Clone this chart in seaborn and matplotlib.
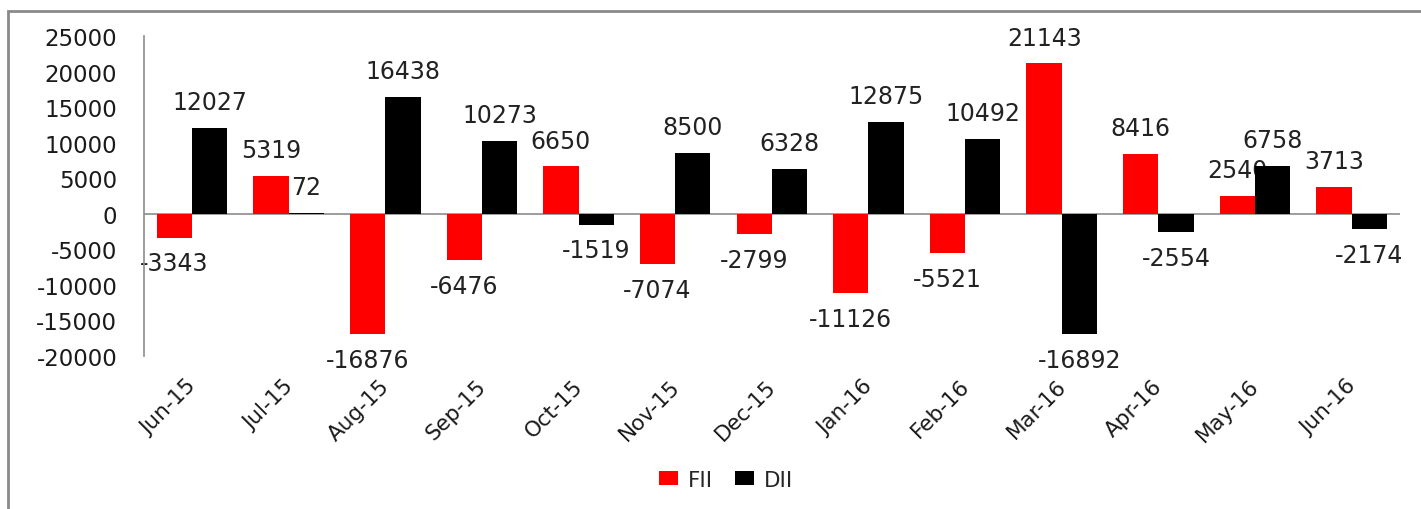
import matplotlib
matplotlib.use("Agg")
import matplotlib.pyplot as plt
import matplotlib.transforms as mtransforms
import seaborn as sns
import pandas as pd
from matplotlib.patches import Rectangle, Patch

months = ["Jun-15", "Jul-15", "Aug-15", "Sep-15", "Oct-15", "Nov-15", "Dec-15",
          "Jan-16", "Feb-16", "Mar-16", "Apr-16", "May-16", "Jun-16"]
fii = [-3343, 5319, -16876, -6476, 6650, -7074, -2799, -11126, -5521, 21143, 8416, 2540, 3713]
dii = [12027, 72, 16438, 10273, -1519, 8500, 6328, 12875, 10492, -16892, -2554, 6758, -2174]
series = ["FII", "DII"]
colors = {"FII": "#ff0000", "DII": "#000000"}
yticks = [-20000, -15000, -10000, -5000, 0, 5000, 10000, 15000, 20000, 25000]

df = pd.DataFrame({
    "month": months * 2,
    "value": fii + dii,
    "series": ["FII"] * len(months) + ["DII"] * len(months),
})

sns.set_style("white")
plt.rcParams["font.family"] = ["DejaVu Sans"]

W, H = 1421, 510
fig = plt.figure(figsize=(W / 100, H / 100), dpi=100)
ax = fig.add_axes([143.7 / W, 1 - 357 / H, (1400 - 143.7) / W, (357 - 37) / H])

sns.barplot(data=df, x="month", y="value", hue="series", order=months,
            hue_order=series, palette=colors, width=0.73, saturation=1,
            ax=ax, legend=False, linewidth=0)

ax.set_xlim(-0.5, len(months) - 0.5)
ax.set_ylim(-20000, 25000)
ax.set_yticks(yticks)
ax.set_yticklabels([str(v) for v in yticks], fontsize=16.5, color="#1a1a1a")
ax.set_xlabel("")
ax.set_ylabel("")
ax.tick_params(axis="y", length=0, pad=19)
ax.tick_params(axis="x", length=0, pad=14)
ax.set_xticks(range(len(months)))
ax.set_xticklabels(months, rotation=45, ha="right", rotation_mode="anchor",
                   fontsize=15.5, color="#1a1a1a")
shift = mtransforms.ScaledTranslation(-0.06, 0, fig.dpi_scale_trans)
for lbl in ax.get_xticklabels():
    lbl.set_transform(lbl.get_transform() + shift)

for s in ["top", "right", "bottom"]:
    ax.spines[s].set_visible(False)
ax.spines["left"].set_color("#8c8c8c")
ax.spines["left"].set_linewidth(1.2)
ax.axhline(0, color="#8c8c8c", lw=1.2, zorder=0.5)

# bars: FII under DII
fii_c, dii_c = ax.containers[0], ax.containers[1]
for b in fii_c:
    b.set_zorder(1)
for b in dii_c:
    b.set_zorder(2)

t_f = ax.bar_label(fii_c, labels=[str(v) for v in fii], padding=10,
                   fontsize=17, color="#222222")
t_d = ax.bar_label(dii_c, labels=[str(v) for v in dii], padding=10,
                   fontsize=17, color="#222222")
for t in t_f:
    t.set_zorder(1.5)
for t in t_d:
    t.set_zorder(3)

handles = [Patch(facecolor=colors[s], edgecolor="none", label=s) for s in series]
fig.legend(handles=handles, loc="center", bbox_to_anchor=(726 / W, 1 - 481 / H),
           ncol=2, frameon=False, fontsize=15.5, handlelength=0.9, handleheight=0.62,
           handletextpad=0.45, columnspacing=1.0)

fig.patches.append(Rectangle((8 / W, -0.2), 1.2, 1.2 - 12 / H,
                             transform=fig.transFigure, fill=False,
                             edgecolor="#8a8a8a", lw=2))

fig.savefig("out.png", dpi=100)
